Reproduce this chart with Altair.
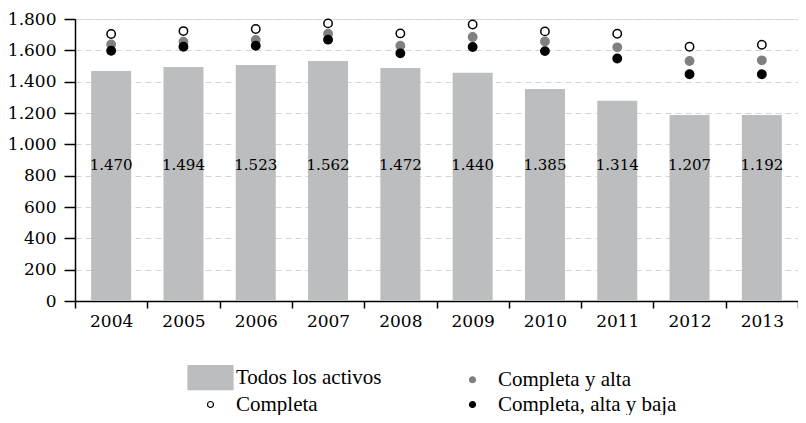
import altair as alt
import pandas as pd

years = ["2004", "2005", "2006", "2007", "2008", "2009", "2010", "2011", "2012", "2013"]
todos = [1468, 1494, 1506, 1532, 1487, 1457, 1353, 1278, 1187, 1187]
todos_labels = ["1.470", "1.494", "1.523", "1.562", "1.472", "1.440", "1.385", "1.314", "1.207", "1.192"]
completa = [1704, 1723, 1736, 1772, 1708, 1765, 1721, 1706, 1623, 1636]
completa_alta = [1638, 1655, 1666, 1706, 1629, 1685, 1657, 1619, 1532, 1536]
completa_alta_baja = [1597, 1623, 1629, 1668, 1581, 1621, 1595, 1548, 1447, 1447]
y_ticks = [0, 200, 400, 600, 800, 1000, 1200, 1400, 1600, 1800]

S_TODOS = "Todos los activos"
S_ALTA = "Completa y alta"
S_COMP = "Completa"
S_BAJA = "Completa, alta y baja"

bars = pd.DataFrame({"year": years, "value": todos, "label": todos_labels})

rows = []
for name, vals in [(S_ALTA, completa_alta), (S_BAJA, completa_alta_baja), (S_COMP, completa)]:
    for y, v in zip(years, vals):
        rows.append({"year": y, "value": v, "serie": name})
pts = pd.DataFrame(rows)

RECT_PATH = "M-7.5,-4H7.5V4H-7.5Z"
legend_domain = [S_TODOS, S_COMP, S_ALTA, S_BAJA]
fill_range = ["#bcbdbf", "white", "#808080", "black"]
stroke_range = ["#bcbdbf", "black", "#808080", "black"]
shape_range = [RECT_PATH, "circle", "circle", "circle"]

x_axis = alt.Axis(labelAngle=0, tickBand="extent", tickSize=7, labelPadding=5,
                  labelFont="DejaVu Serif", labelFontSize=17, labelColor="black",
                  domainColor="black", domainWidth=1.5, tickColor="black", tickWidth=1.5,
                  grid=False)
y_axis = alt.Axis(values=y_ticks, tickCount=20, tickSize=11, labelPadding=8, labelOverlap=False,
                  labelExpr="replace(format(datum.value, ','), ',', '.')",
                  labelFont="DejaVu Serif", labelFontSize=17, labelColor="black",
                  domainColor="black", domainWidth=1.5, tickColor="black", tickWidth=1.5,
                  grid=True, gridColor="#d4d4d4", gridDash=[6, 4], gridWidth=1)
y_scale = alt.Scale(domain=[0, 1800], nice=False)

X = alt.X("year:N", title=None, sort=years,
          scale=alt.Scale(paddingInner=0, paddingOuter=0), axis=x_axis)
Y = alt.Y("value:Q", title=None, scale=y_scale, axis=y_axis)

leg = alt.Legend(title=None, orient="none", legendX=125, legendY=348, columns=2,
                 labelFont="Liberation Serif", labelFontSize=21, labelColor="black",
                 labelOffset=15, symbolSize=36, symbolStrokeWidth=1.2,
                 rowPadding=1, columnPadding=80, padding=0, labelLimit=0)

bar_layer = alt.Chart(bars).mark_bar(size=40, color="#bcbdbf").encode(x=X, y=Y)

text_layer = alt.Chart(bars).mark_text(font="DejaVu Serif", fontSize=15, color="black").encode(
    x=X, y=alt.YDatum(866, scale=y_scale, axis=y_axis, title=None), text="label:N")

pt_layer = alt.Chart(pts).mark_point(filled=True, size=70, strokeWidth=1.5, opacity=1).encode(
    x=X,
    y=Y,
    fill=alt.Fill("serie:N", scale=alt.Scale(domain=legend_domain, range=fill_range), legend=leg),
    stroke=alt.Stroke("serie:N", scale=alt.Scale(domain=legend_domain, range=stroke_range), legend=leg),
    shape=alt.Shape("serie:N", scale=alt.Scale(domain=legend_domain, range=shape_range), legend=leg),
)

chart = alt.layer(bar_layer, text_layer, pt_layer).properties(
    width=723, height=282,
    autosize=alt.AutoSizeParams(type="none"),
    padding={"left": 67, "top": 11, "right": 0, "bottom": 114},
).configure_view(stroke=None).configure(background="white").configure_axisY(
    labelOverlap=False)

chart.save("out.html", embed_options={"renderer": "svg", "actions": False})
